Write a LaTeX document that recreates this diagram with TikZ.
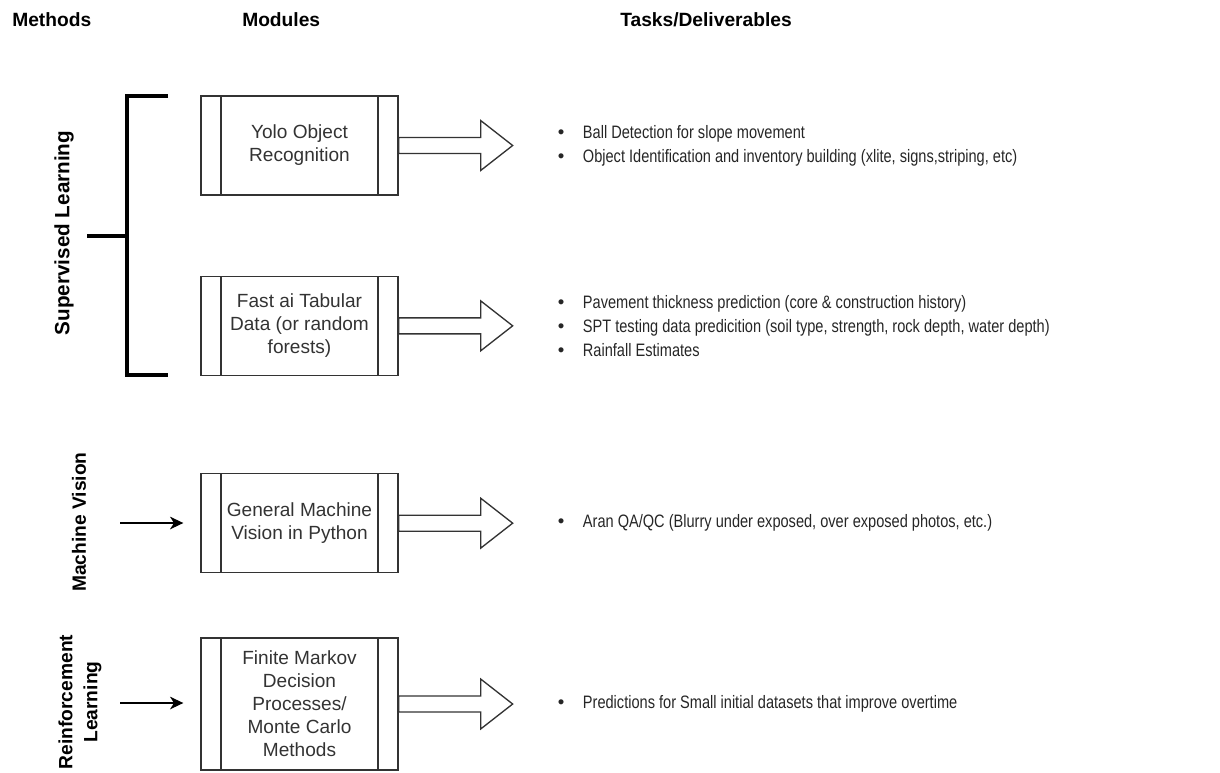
\documentclass[tikz,border=0pt]{standalone}
\usepackage{fontspec}
\setmainfont{Liberation Sans}
\newfontfamily\narrowfont[FakeStretch=0.81]{Liberation Sans}
\usetikzlibrary{positioning,arrows.meta}

\newcommand\taskitem{\makebox[18.75pt][l]{\normalfont\fontsize{14}{18}\selectfont\textbullet}}

\begin{document}
\begin{tikzpicture}[x=0.75pt,y=-0.75pt,
	heading/.style={font=\bfseries\fontsize{14.4}{17}\selectfont, anchor=west, inner sep=0pt},
	method/.style={font=\bfseries\fontsize{14.4}{18.75}\selectfont, rotate=90, align=center, inner sep=0pt},
	module/.style={draw=black!80, line width=1pt, minimum width=147.75pt, minimum height=74.25pt,
		align=center, text=black!80, font=\fontsize{14.3}{17.25}\selectfont, inner sep=0pt,
		path picture={
			\draw[black!80, line width=1pt] ([xshift=15pt]path picture bounding box.north west)
				-- ([xshift=15pt]path picture bounding box.south west);
			\draw[black!80, line width=1pt] ([xshift=-15pt]path picture bounding box.north east)
				-- ([xshift=-15pt]path picture bounding box.south east);
		}},
	tasks/.style={align=left, text=black!85, font=\narrowfont\fontsize{13.5}{18}\selectfont, inner sep=0pt},
	blockarrow/.style={draw=black!80, line width=1pt, fill=white, line join=miter},
	bracket/.style={line width=2.4pt},
	feed/.style={line width=1pt, -{Stealth[length=10pt,width=9.5pt,inset=3pt]}, shorten >=12.75pt}
]

	\useasboundingbox (0,0) rectangle (1220,772);

% column headings %{{{2

	\node[heading] (methods) at (12,20) {Methods};
	\node[heading] (modules) at (242,20) {Modules};
	\node[heading] (deliv) at (620,20) {Tasks/Deliverables};

% modules %{{{2

	\node[module] (yolo) at (299.5,145.5) {Yolo Object\\Recognition};
	\node[module, below=60pt of yolo] (fastai) {Fast ai Tabular\\Data (or random\\forests)};
	\node[module, below=72.75pt of fastai] (mv) {General Machine\\Vision in Python};
	\node[module, below=48pt of mv, minimum height=99pt] (markov)
		{Finite Markov\\Decision\\Processes/\\Monte Carlo\\Methods};

% block arrows %{{{2

	\foreach \m in {yolo,fastai,mv,markov}
		\draw[blockarrow] ([yshift=-6pt]\m.east) -- ++(82,0) -- ++(0,17) -- ++(32,-25)
			-- ++(-32,-25) -- ++(0,17) -- ++(-82,0) -- cycle;

% tasks %{{{2

	\node[tasks, right=119.25pt of yolo] (yolotasks)
		{\taskitem Ball Detection for slope movement\\
		\taskitem Object Identification and inventory building (xlite, signs,striping, etc)};
	\node[tasks, right=119.25pt of fastai] (fastaitasks)
		{\taskitem Pavement thickness prediction (core \& construction history)\\
		\taskitem SPT testing data predicition (soil type, strength, rock depth, water depth)\\
		\taskitem Rainfall Estimates};
	\node[tasks, right=119.25pt of mv] (mvtasks)
		{\taskitem Aran QA/QC (Blurry under exposed, over exposed photos, etc.)};
	\node[tasks, right=119.25pt of markov] (markovtasks)
		{\taskitem Predictions for Small initial datasets that improve overtime};

% methods %{{{2

	\node[method, font=\bfseries\fontsize{15.5}{18.75}\selectfont] (supervised) at (64,233) {Supervised Learning};
	\node[method] (vision) at (79,522) {Machine Vision};
	\node[method] (reinforce) at (80,702) {Reinforcement\\Learning};

% bracket %{{{2

	\coordinate (brtop) at (168,96);
	\coordinate (brbot) at (168,375);
	\coordinate (brmid) at (127,236);
	\draw[bracket] (brtop) -- (brtop -| brmid) -- (brbot -| brmid) -- (brbot);
	\draw[bracket] (87,236) -- (brmid);

% feed arrows %{{{2

	\coordinate (mvfeed) at (120,523);
	\coordinate (markovfeed) at (120,703);
	\draw[feed] (mvfeed) -- (mvfeed -| mv.west);
	\draw[feed] (markovfeed) -- (markovfeed -| markov.west);

\end{tikzpicture}
\end{document}
